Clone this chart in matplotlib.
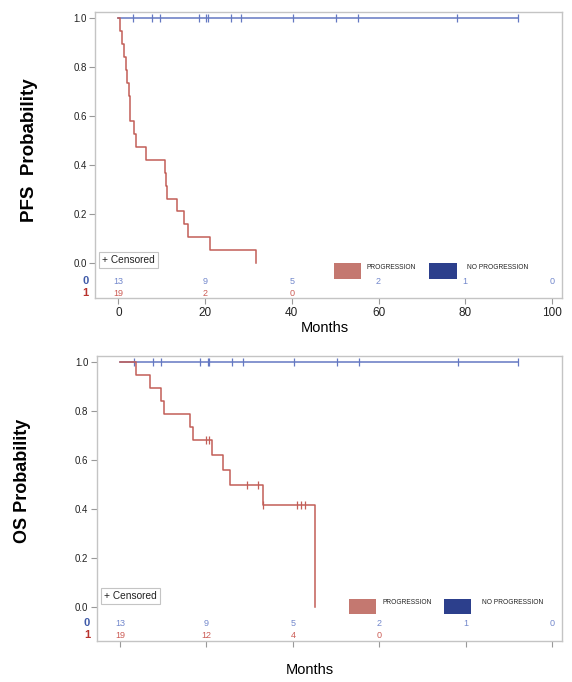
import numpy as np
import matplotlib
matplotlib.use('Agg')
import matplotlib.pyplot as plt
from matplotlib.patches import Rectangle

plt.rcParams['font.family'] = ['Liberation Sans', 'DejaVu Sans']

# ---- data ----
months_ticks = [0, 20, 40, 60, 80, 100]

# PFS, progression group: step times (months) and survival level after each step
pfs_red_t = [0, 0.4, 0.85, 1.24, 1.7, 2.0, 2.4, 2.6, 2.8, 3.6, 4.0, 6.3,
             10.8, 11.0, 11.15, 13.6, 15.1, 16.0, 21.1, 31.85]
pfs_red_s = [1.0, 0.947, 0.895, 0.842, 0.789, 0.737, 0.684, 0.632, 0.579, 0.526,
             0.474, 0.421, 0.368, 0.316, 0.263, 0.211, 0.158, 0.105, 0.053, 0.0]
pfs_red_cens = []

# OS, progression group
os_red_t = [0, 3.7, 7.0, 9.55, 10.25, 16.25, 17.0, 21.4, 23.9, 25.4, 33.1, 45.2]
os_red_s = [1.0, 0.947, 0.895, 0.842, 0.789, 0.737, 0.684, 0.622, 0.560, 0.498, 0.415, 0.0]
os_red_cens = [19.9, 20.6, 29.4, 32.0, 33.1, 41.05, 42.0, 42.8]

# no-progression group: nobody has an event, only censored times
blue_cens = [3.3, 7.7, 9.5, 18.6, 20.3, 20.6, 25.9, 28.4, 40.2, 50.3, 55.3, 78.1, 92.2]

# numbers at risk
risk_blue = [13, 9, 5, 2, 1, 0]
pfs_risk_red = [19, 2, 0]
os_risk_red = [19, 12, 4, 0]

RED = '#c25e57'
BLUE = '#6478c2'
RED_TXT = '#cc5c55'
BLUE_TXT = '#7388cc'
PATCH_RED = '#c47870'
PATCH_BLUE = '#2c3f8c'
GRID = '#c4c4c4'


def level_at(t, times, levels):
    i = np.searchsorted(times, t, side='right') - 1
    return levels[i]


def draw_panel(ax, red_t, red_s, red_cens, risk_red, ylim, risk_y, leg_x, leg_y, show_xlabels):
    ax.set_xlim(-5.38, 102.2)
    ax.set_ylim(*ylim)

    # no-progression: flat line at 1.0 with censor ticks
    ax.plot([0, max(blue_cens)], [1, 1], color=BLUE, lw=1.1, zorder=2)
    ax.plot(blue_cens, [1] * len(blue_cens), ls='none', marker='|', ms=5.5,
            mew=0.9, color=BLUE, zorder=2)

    ax.step(red_t, red_s, where='post', color=RED, lw=1.1, zorder=3)
    if red_cens:
        ys = [level_at(t, red_t, red_s) for t in red_cens]
        ax.plot(red_cens, ys, ls='none', marker='|', ms=5.5, mew=0.9, color=RED, zorder=3)

    # numbers at risk inside the plot area
    for x, n in zip(months_ticks, risk_blue):
        ax.text(x, risk_y[0], str(n), ha='center', va='center', fontsize=6.5, color=BLUE_TXT)
    for x, n in zip(months_ticks, risk_red):
        ax.text(x, risk_y[1], str(n), ha='center', va='center', fontsize=6.5, color=RED_TXT)
    ax.text(-0.021, risk_y[0], '0', transform=ax.get_yaxis_transform(), ha='center',
            va='center', fontsize=8, color='#3f5aa8', fontweight='bold')
    ax.text(-0.021, risk_y[1], '1', transform=ax.get_yaxis_transform(), ha='center',
            va='center', fontsize=8, color='#b8322d', fontweight='bold')

    # censored box
    ax.text(0.016, leg_y + 0.025, '+ Censored', transform=ax.transAxes, fontsize=7.3,
            va='center', ha='left', color='#222222',
            bbox=dict(boxstyle='square,pad=0.3', fc='white', ec=GRID, lw=0.8))

    # group legend
    ax.add_patch(Rectangle((leg_x, leg_y - 0.04), 0.058, 0.055, transform=ax.transAxes,
                           fc=PATCH_RED, ec='none', clip_on=False))
    ax.text(leg_x + 0.071, leg_y + 0.0, 'PROGRESSION', transform=ax.transAxes,
            fontsize=4.8, va='center', ha='left', color='#222222')
    ax.add_patch(Rectangle((leg_x + 0.203, leg_y - 0.04), 0.06, 0.055, transform=ax.transAxes,
                           fc=PATCH_BLUE, ec='none', clip_on=False))
    ax.text(leg_x + 0.285, leg_y + 0.0, 'NO PROGRESSION', transform=ax.transAxes,
            fontsize=4.8, va='center', ha='left', color='#222222')

    ax.set_yticks([0, 0.2, 0.4, 0.6, 0.8, 1.0])
    ax.set_yticklabels(['0.0', '0.2', '0.4', '0.6', '0.8', '1.0'])
    ax.set_xticks(months_ticks)
    if not show_xlabels:
        ax.set_xticklabels([])
    ax.tick_params(axis='y', labelsize=7, length=4, width=0.8, color='#999999', pad=2,
                   labelcolor='#222222')
    ax.tick_params(axis='x', labelsize=8.5, length=4, width=0.8, color='#999999', pad=2,
                   labelcolor='#222222')
    for sp in ax.spines.values():
        sp.set_color(GRID)
        sp.set_linewidth(1.0)


fig = plt.figure(figsize=(5.72, 6.82), dpi=100)
ax1 = fig.add_axes([95 / 572, 1 - 298.3 / 682, 466.5 / 572, 286 / 682])
ax2 = fig.add_axes([96.7 / 572, 1 - 640.7 / 682, 465 / 572, 285 / 682])

draw_panel(ax1, pfs_red_t, pfs_red_s, pfs_red_cens, pfs_risk_red,
           (-0.144, 1.0245), (-0.074, -0.123), 0.512, 0.108, True)
draw_panel(ax2, os_red_t, os_red_s, os_red_cens, os_risk_red,
           (-0.138, 1.027), (-0.066, -0.115), 0.543, 0.133, False)

fig.text(29 / 572, 1 - 150 / 682, 'PFS  Probability', rotation=90, ha='center', va='center',
         fontsize=13.5, fontweight='bold')
fig.text(23 / 572, 1 - 481 / 682, 'OS Probability', rotation=90, ha='center', va='center',
         fontsize=13, fontweight='bold')
fig.text(325 / 572, 1 - 328 / 682, 'Months', ha='center', va='center', fontsize=10.5)
fig.text(310 / 572, 1 - 670 / 682, 'Months', ha='center', va='center', fontsize=10.5)

fig.savefig('out.png', dpi=100)
